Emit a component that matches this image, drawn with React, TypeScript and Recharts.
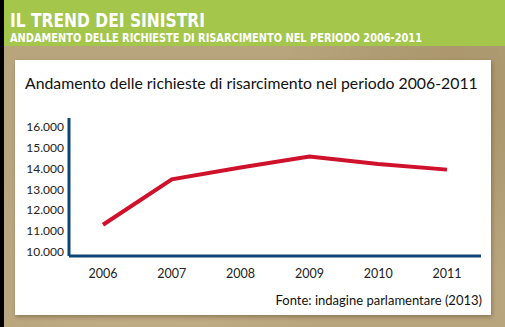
import { LineChart, Line, XAxis, YAxis } from "recharts";

const years = ["2006", "2007", "2008", "2009", "2010", "2011"];
const claims = [11300, 13480, 14050, 14580, 14220, 13950];
const yTicks = [10000, 11000, 12000, 13000, 14000, 15000, 16000];

const data = years.map((year, i) => ({ year, claims: claims[i] }));

const fmt = (v: number) => String(v).replace(/\B(?=(\d{3})+(?!\d))/g, ".");

const axisColor = "#0b4677";
const font = "Lato, 'Open Sans', sans-serif";

export default function App() {
  return (
    <div
      style={{
        position: "absolute",
        left: 0,
        top: 0,
        width: 505,
        height: 327,
        overflow: "hidden",
        background:
          "radial-gradient(circle at 30% 80%, #c2ae86 0%, transparent 40%), radial-gradient(circle at 90% 30%, #a8936a 0%, transparent 35%), #b8a57e",
      }}
    >
      {/* black strip on the left */}
      <div style={{ position: "absolute", left: 0, top: 0, width: 4, height: 327, background: "#000" }} />
      {/* green header */}
      <div style={{ position: "absolute", left: 4, top: 0, width: 501, height: 46, background: "#a3c64b" }} />
      {/* white panel */}
      <div
        style={{
          position: "absolute",
          left: 15,
          top: 60,
          width: 476,
          height: 255,
          background: "#fff",
          boxShadow: "1px 2px 4px rgba(60,40,10,0.35)",
        }}
      />
      <svg width={505} height={327} style={{ position: "absolute", left: 0, top: 0 }}>
        <text x={10} y={27} fill="#fff" fontFamily="'DejaVu Sans Condensed', 'DejaVu Sans', sans-serif" fontWeight="bold" fontSize={20} textLength={195} lengthAdjust="spacingAndGlyphs">
          IL TREND DEI SINISTRI
        </text>
        <text x={10} y={42} fill="#fff" fontFamily="'DejaVu Sans Condensed', 'DejaVu Sans', sans-serif" fontWeight="bold" fontSize={12.5} textLength={412} lengthAdjust="spacingAndGlyphs">
          ANDAMENTO DELLE RICHIESTE DI RISARCIMENTO NEL PERIODO 2006-2011
        </text>
        <text x={25} y={89} fill="#111" fontFamily={font} fontSize={15.8}>
          Andamento delle richieste di risarcimento nel periodo 2006-2011
        </text>
        <text x={482} y={305} textAnchor="end" fill="#111" fontFamily={font} fontSize={13}>
          Fonte: indagine parlamentare (2013)
        </text>
      </svg>
      <div style={{ position: "absolute", left: 0, top: 0 }}>
        <LineChart
          width={505}
          height={327}
          data={data}
          margin={{ top: 118, right: 24, bottom: 41, left: 9 }}
        >
          <XAxis
            dataKey="year"
            padding={{ left: 34, right: 34 }}
            axisLine={{ stroke: axisColor, strokeWidth: 3 }}
            tickLine={false}
            tickSize={10}
            tickMargin={3}
            height={30}
            tick={{ fill: "#222", fontSize: 12.5, fontFamily: font }}
          />
          <YAxis
            domain={[9800, 16430]}
            ticks={yTicks}
            tickFormatter={fmt}
            width={60}
            axisLine={{ stroke: axisColor, strokeWidth: 3 }}
            tickLine={false}
            tickSize={5}
            tickMargin={0}
            tick={{ fill: "#222", fontSize: 12, fontFamily: font }}
            allowDataOverflow
          />
          <Line
            type="linear"
            dataKey="claims"
            stroke="#d0112b"
            strokeWidth={4}
            dot={false}
            isAnimationActive={false}
          />
        </LineChart>
      </div>
    </div>
  );
}
